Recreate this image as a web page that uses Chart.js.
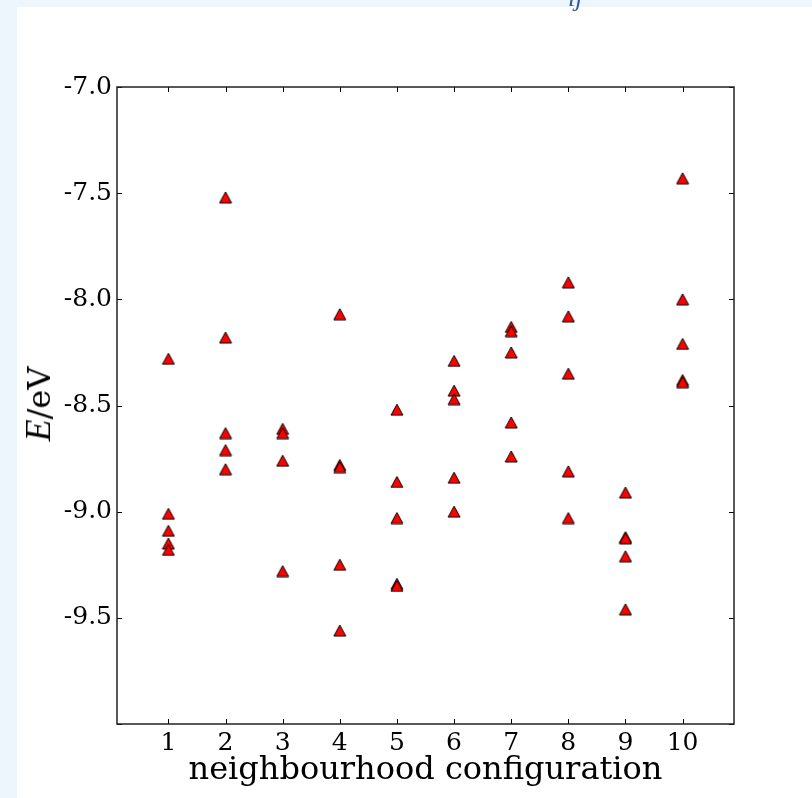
<!DOCTYPE html>
<html>
<head>
<meta charset="utf-8">
<script src="https://cdn.jsdelivr.net/npm/chart.js@4"></script>
<style>
    html, body { margin: 0; padding: 0; }
    body { width: 812px; height: 798px; overflow: hidden; background: #eef6fd; position: relative; }
    #panel { position: absolute; left: 17px; top: 7px; width: 795px; height: 791px; background: #ffffff; }
    #chart { position: absolute; left: 0; top: 0; }
    #ytitle {
        position: absolute; left: 38px; top: 404px;
        transform: translate(-50%, -50%) rotate(-90deg);
        font-family: "DejaVu Serif", serif; font-size: 32px; color: #000; white-space: nowrap;
    }
    #ytitle i { font-family: "Liberation Serif", serif; font-size: 36px; }
    #cut { position: absolute; left: 568px; top: -17px; font-family: "Liberation Serif", serif;
           font-style: italic; font-size: 26px; color: #2b5a9e; }
</style>
</head>
<body>
<div id="panel"></div>
<canvas id="chart" width="812" height="798"></canvas>
<div id="ytitle"><i>E</i>/eV</div>
<div id="cut">ij</div>
<script>
const xTicks = [1, 2, 3, 4, 5, 6, 7, 8, 9, 10];
const yTicks = [-7.0, -7.5, -8.0, -8.5, -9.0, -9.5, -10.0];

// energies (eV) read per neighbourhood configuration
const config1 = [-8.28, -9.01, -9.09, -9.15, -9.18];
const config2 = [-7.52, -8.18, -8.63, -8.71, -8.80];
const config3 = [-8.61, -8.63, -8.76, -9.28];
const config4 = [-8.07, -8.78, -8.79, -9.25, -9.56];
const config5 = [-8.52, -8.86, -9.03, -9.34, -9.35];
const config6 = [-8.29, -8.43, -8.47, -8.84, -9.00];
const config7 = [-8.13, -8.15, -8.25, -8.58, -8.74];
const config8 = [-7.92, -8.08, -8.35, -8.81, -9.03];
const config9 = [-8.91, -9.12, -9.125, -9.21, -9.46];
const config10 = [-7.43, -8.00, -8.21, -8.38, -8.39];

const allConfigs = [config1, config2, config3, config4, config5, config6, config7, config8, config9, config10];

const points = [];
allConfigs.forEach((energies, i) => {
    energies.forEach(e => points.push({ x: xTicks[i], y: e }));
});

const serif = "'DejaVu Serif', serif";

// triangle marker centred on its bounding box (like matplotlib '^')
function makeTriangle() {
    const c = document.createElement("canvas");
    c.width = 14;
    c.height = 13;
    const g = c.getContext("2d");
    g.beginPath();
    g.moveTo(7, 1);
    g.lineTo(13, 12);
    g.lineTo(1, 12);
    g.closePath();
    g.fillStyle = "#ff0000";
    g.fill();
    g.strokeStyle = "#000";
    g.lineWidth = 1;
    g.stroke();
    return c;
}

// box around the axes plus inward tick marks on all four sides
const framePlugin = {
    id: "frame",
    afterDraw(chart) {
        const { ctx, chartArea, scales } = chart;
        const { left, right, top, bottom } = chartArea;
        const len = 5;
        ctx.save();
        ctx.strokeStyle = "#000";
        ctx.lineWidth = 1;
        ctx.beginPath();
        scales.x.ticks.forEach(t => {
            const px = Math.round(scales.x.getPixelForValue(t.value)) + 0.5;
            ctx.moveTo(px, bottom); ctx.lineTo(px, bottom - len);
            ctx.moveTo(px, top); ctx.lineTo(px, top + len);
        });
        scales.y.ticks.forEach(t => {
            const py = Math.round(scales.y.getPixelForValue(t.value)) + 0.5;
            ctx.moveTo(left, py); ctx.lineTo(left + len, py);
            ctx.moveTo(right, py); ctx.lineTo(right - len, py);
        });
        ctx.stroke();
        ctx.strokeStyle = "#222";
        ctx.lineWidth = 1.5;
        ctx.strokeRect(left, top, right - left, bottom - top);
        ctx.restore();
    }
};

new Chart(document.getElementById("chart"), {
    type: "scatter",
    data: {
        datasets: [{
            data: points,
            pointStyle: makeTriangle(),
            radius: 7,
            hoverRadius: 7
        }]
    },
    options: {
        responsive: false,
        animation: false,
        events: [],
        layout: { padding: { left: 0, top: 87, right: 78, bottom: 0 } },
        plugins: { legend: { display: false }, tooltip: { enabled: false } },
        scales: {
            x: {
                type: "linear",
                min: 0.1,
                max: 10.9,
                afterBuildTicks: s => { s.ticks = xTicks.map(v => ({ value: v })); },
                afterFit: s => { s.height = 74; },
                grid: { display: false, drawTicks: false },
                border: { display: false },
                ticks: {
                    color: "#000",
                    font: { family: serif, size: 25 },
                    padding: 4,
                    callback: v => String(v)
                },
                title: {
                    display: true,
                    text: "neighbourhood configuration",
                    color: "#000",
                    font: { family: serif, size: 32 },
                    padding: { top: 0, bottom: 8 }
                }
            },
            y: {
                type: "linear",
                min: -10,
                max: -7,
                afterBuildTicks: s => { s.ticks = yTicks.map(v => ({ value: v })); },
                afterFit: s => { s.width = 117; },
                grid: { display: false, drawTicks: false },
                border: { display: false },
                ticks: {
                    color: "#000",
                    font: { family: serif, size: 25 },
                    padding: 5,
                    callback: v => (v === -10 ? "" : v.toFixed(1))
                }
            }
        }
    },
    plugins: [framePlugin]
});
</script>
</body>
</html>
